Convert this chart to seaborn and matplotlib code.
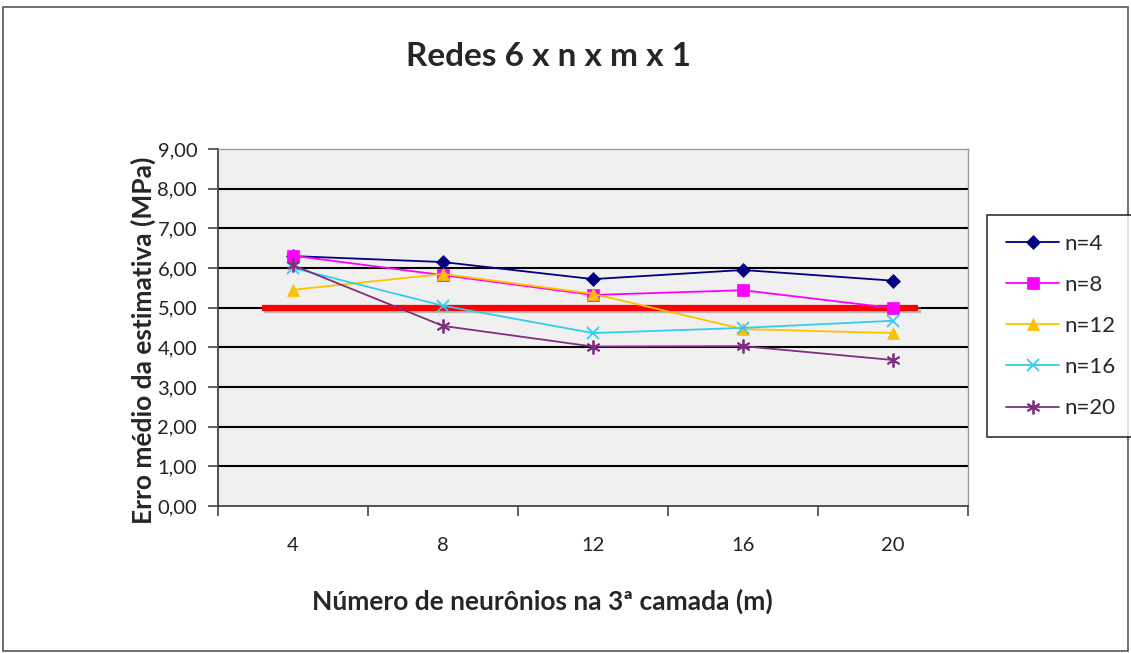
import matplotlib
matplotlib.use("Agg")
import matplotlib.pyplot as plt
import matplotlib.patheffects as pe
from matplotlib.patches import Rectangle
import seaborn as sns
import pandas as pd

# ---- data ----
m_values = ["4", "8", "12", "16", "20"]
series_names = ["n=4", "n=8", "n=12", "n=16", "n=20"]
n4 = [6.30, 6.15, 5.72, 5.95, 5.68]
n8 = [6.31, 5.82, 5.32, 5.44, 4.99]
n12 = [5.45, 5.85, 5.35, 4.46, 4.36]
n16 = [6.00, 5.05, 4.36, 4.49, 4.67]
n20 = [6.07, 4.54, 4.02, 4.03, 3.68]
ref_value = 5.0
y_ticks = [0, 1, 2, 3, 4, 5, 6, 7, 8, 9]
y_tick_labels = ["0,00", "1,00", "2,00", "3,00", "4,00", "5,00", "6,00", "7,00", "8,00", "9,00"]

rows = []
for name, vals in zip(series_names, [n4, n8, n12, n16, n20]):
    for i, v in enumerate(vals):
        rows.append({"pos": i, "serie": name, "erro": v})
df = pd.DataFrame(rows)

palette = {"n=4": "#000080", "n=8": "#FF00FF", "n=12": "#FFC000",
           "n=16": "#33CCEE", "n=20": "#7F2F7F"}
markers = {"n=4": "D", "n=8": "s", "n=12": "^", "n=16": "x", "n=20": (6, 2, 0)}
sizes_m = {"n=4": 7, "n=8": 9, "n=12": 8, "n=16": 9, "n=20": 10}

sns.set_theme(style="white")
plt.rcParams["font.family"] = ["DejaVu Sans"]

fig = plt.figure(figsize=(11.31, 6.53), dpi=100)
ax = fig.add_axes([218 / 1131, 1 - 506 / 653, 750 / 1131, 357 / 653])
ax.set_facecolor("#F0F0F0")

# gridlines
for yv in y_ticks[1:-1]:
    ax.axhline(yv, color="black", lw=1.5, zorder=1)

# reference line
ax.hlines(ref_value, -0.21, 4.17, color="#FF0000", lw=4.5, zorder=2,
          path_effects=[pe.SimpleLineShadow(offset=(1.5, -2), shadow_color="gray", alpha=0.5), pe.Normal()])

for name in series_names:
    sub = df[df["serie"] == name]
    mk = markers[name]
    filled = mk not in ("x",) and not isinstance(mk, tuple)
    sns.lineplot(data=sub, x="pos", y="erro", ax=ax, color=palette[name],
                 marker=mk, markersize=sizes_m[name], lw=1.3, label=name,
                 markeredgecolor=palette[name],
                 markeredgewidth=1.3 if not filled else 0.5, zorder=3, legend=False)

ax.set_xlim(-0.5, 4.5)
ax.set_ylim(0, 9)
ax.set_xticks(range(5))
ax.set_xticklabels(m_values, fontsize=14.5, color="#222222", family=["Lato", "DejaVu Sans"])
ax.set_xticks([-0.5, 0.5, 1.5, 2.5, 3.5, 4.5], minor=True)
ax.tick_params(axis="x", which="major", length=0, pad=22)
ax.tick_params(axis="x", which="minor", length=7, width=1.2, color="#444444", direction="out", bottom=True)
ax.set_yticks(y_ticks)
ax.set_yticklabels(y_tick_labels, fontsize=14.5, color="#222222", family=["Lato", "DejaVu Sans"])
ax.tick_params(axis="y", length=7, width=1.2, color="#444444", direction="out", left=True, pad=8)

for s in ["top", "right"]:
    ax.spines[s].set_color("#999999")
    ax.spines[s].set_linewidth(1)
for s in ["left", "bottom"]:
    ax.spines[s].set_color("#444444")
    ax.spines[s].set_linewidth(1.3)

ax.set_xlabel("")
ax.set_ylabel("")

fig.text(548 / 1131, 1 - 57 / 653, "Redes 6 x n x m x 1", ha="center", va="center",
         fontsize=24, fontweight="bold", family=["Lato", "DejaVu Sans"])
fig.text(542 / 1131, 1 - 601 / 653, "Número de neurônios na 3ª camada (m)", ha="center", va="center",
         fontsize=19, fontweight="bold", family=["Lato", "DejaVu Sans"])
fig.text(143 / 1131, 1 - 340 / 653, "Erro médio da estimativa (MPa)", ha="center", va="center",
         rotation=90, fontsize=19, fontweight="bold", family=["Lato", "DejaVu Sans"])

handles, labels = ax.get_legend_handles_labels()
leg = fig.legend(handles, labels, loc="upper left", bbox_to_anchor=(987 / 1131, 1 - 215 / 653),
                 bbox_transform=fig.transFigure, frameon=True, fancybox=False,
                 edgecolor="black", labelspacing=0.95, handlelength=2.4, borderaxespad=0,
                 borderpad=0.85, handletextpad=0.25, prop={"family": ["Lato", "DejaVu Sans"], "size": 16})
leg.get_frame().set_linewidth(1.2)

fig.patches.append(Rectangle((3 / 1131, 2 / 653), 1125 / 1131, 644 / 653, transform=fig.transFigure,
                             fill=False, edgecolor="#555555", lw=1.2))

fig.savefig("out.png", dpi=100, facecolor="white")
